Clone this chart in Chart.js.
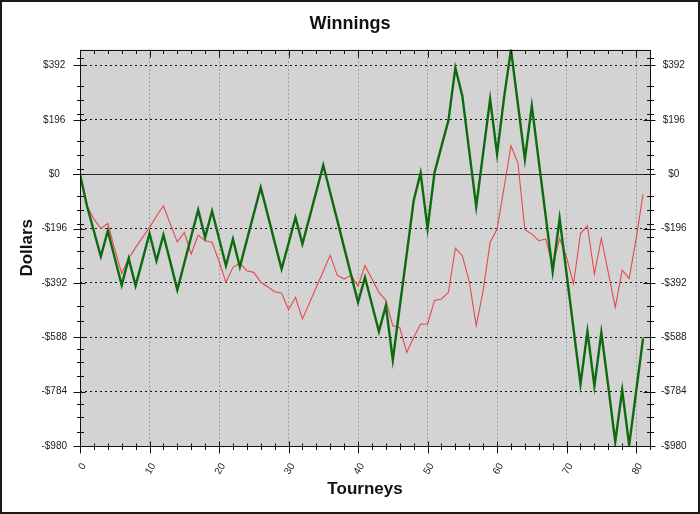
<!DOCTYPE html>
<html>
<head>
<meta charset="utf-8">
<title>Winnings</title>
<script src="https://cdn.jsdelivr.net/npm/chart.js@4.4.1/dist/chart.umd.min.js"></script>
<style>
  html, body { margin: 0; padding: 0; background: #fff; }
  canvas { display: block; }
</style>
</head>
<body>
<canvas id="chart" width="700" height="514"></canvas>
<script>
const tourneys = [0,1,2,3,4,5,6,7,8,9,10,11,12,13,14,15,16,17,18,19,
  20,21,22,23,24,25,26,27,28,29,30,31,32,33,34,35,36,37,38,39,
  40,41,42,43,44,45,46,47,48,49,50,51,52,53,54,55,56,57,58,59,
  60,61,62,63,64,65,66,67,68,69,70,71,72,73,74,75,76,77,78,79,80,81];

// thick green line
const winnings = [0,-114,-206,-297,-204,-302,-400,-304,-402,-308,
  -214,-312,-219,-317,-417,-321,-225,-129,-228,-133,
  -232,-330,-234,-334,-238,-143,-48,-146,-245,-342,
  -250,-156,-252,-157,-62,32,-67,-165,-265,-363,
  -462,-372,-470,-567,-474,-670,-478,-288,-96,4,
  -196,5,100,193,383,282,82,-117,77,270,
  72,275,449,252,54,246,47,-152,-351,-160,
  -359,-558,-757,-567,-763,-571,-765,-965,-778,-977,
  -785,-592];

// thin red line
const trend = [0,-114,-162,-196,-178,-270,-358,-304,-264,-228,
  -192,-152,-114,-180,-244,-210,-288,-220,-240,-245,
  -314,-390,-336,-321,-348,-354,-390,-406,-424,-429,
  -489,-444,-522,-465,-407,-350,-292,-364,-378,-364,
  -404,-330,-378,-426,-455,-547,-553,-643,-589,-540,
  -541,-455,-450,-426,-267,-294,-387,-546,-420,-246,
  -198,-50,102,40,-200,-216,-240,-234,-330,-232,
  -300,-396,-214,-186,-360,-231,-355,-480,-346,-376,
  -234,-72];

const xTicks = [0,10,20,30,40,50,60,70,80];
const xMinorTicks = [2,4,6,8,12,14,16,18,22,24,26,28,32,34,36,38,42,44,46,48,
  52,54,56,58,62,64,66,68,72,74,76,78,82];
const yTicks = [-980,-784,-588,-392,-196,0,196,392];
const yMinorTicks = [418,316,266,216,120,70,18,-78,-130,-180,-226,-278,-340,
  -476,-528,-630,-678,-729,-829,-877,-929];

const FONT = "'Liberation Sans', Arial, sans-serif";

const formatDollars = (v) => (v < 0 ? '-$' : '$') + Math.abs(v);
const crisp = (p) => Math.round(p) + 0.5;

const line = (ctx, x1, y1, x2, y2) => {
  ctx.beginPath();
  ctx.moveTo(x1, y1);
  ctx.lineTo(x2, y2);
  ctx.stroke();
};

// background, zero line, frame and the tick marks (major + minor)
const plotFrame = {
  id: 'plotFrame',
  beforeDraw(chart) {
    const { ctx, chartArea: a } = chart;
    ctx.save();
    ctx.fillStyle = '#fff';
    ctx.fillRect(0, 0, chart.width, chart.height);
    ctx.fillStyle = '#d3d3d3';
    ctx.fillRect(a.left, a.top, a.right - a.left, a.bottom - a.top);
    ctx.restore();
  },
  beforeDatasetsDraw(chart) {
    const { ctx, chartArea: a, scales } = chart;
    const p = crisp(scales.y.getPixelForValue(0));
    ctx.save();
    ctx.strokeStyle = '#2a2a2a';
    ctx.lineWidth = 1;
    line(ctx, a.left - 7, p, a.right + 5, p);
    ctx.restore();
  },
  afterDatasetsDraw(chart) {
    const { ctx, chartArea: a, scales } = chart;
    const L = crisp(a.left), R = crisp(a.right), T = crisp(a.top), B = crisp(a.bottom);
    ctx.save();
    ctx.strokeStyle = '#111';
    ctx.lineWidth = 1;
    ctx.strokeRect(L, T, R - L, B - T);

    yTicks.forEach(v => {
      const p = crisp(scales.y.getPixelForValue(v));
      line(ctx, L - 7, p, L + 5, p);
      line(ctx, R - 7, p, R + 5, p);
    });
    yMinorTicks.forEach(v => {
      const p = crisp(scales.y.getPixelForValue(v));
      line(ctx, L - 3.5, p, L + 3.5, p);
      line(ctx, R - 3.5, p, R + 3.5, p);
    });
    xTicks.forEach(v => {
      const p = crisp(scales.x.getPixelForValue(v));
      line(ctx, p, B - 5, p, B + 7);
      line(ctx, p, T, p, T + 7);
    });
    xMinorTicks.forEach(v => {
      const p = crisp(scales.x.getPixelForValue(v));
      line(ctx, p, B - 3, p, B + 3.5);
      line(ctx, p, T, p, T + 3.5);
    });

    // outer picture frame
    ctx.lineWidth = 2;
    ctx.strokeStyle = '#1a1a1a';
    ctx.strokeRect(1, 1, chart.width - 2, chart.height - 2);
    ctx.restore();
  }
};

const tickFont = { family: FONT, size: 10 };
const titleFont = { family: FONT, size: 17, weight: 'bold' };

new Chart(document.getElementById('chart'), {
  type: 'line',
  data: {
    datasets: [{
      label: 'Winnings',
      data: tourneys.map((t, i) => ({ x: t, y: winnings[i] })),
      borderColor: '#0e6a0e',
      borderWidth: 2.4,
      pointRadius: 0,
      tension: 0
    }, {
      label: 'Trend',
      data: tourneys.map((t, i) => ({ x: t, y: trend[i] })),
      borderColor: '#e5494c',
      borderWidth: 1.1,
      pointRadius: 0,
      tension: 0
    }]
  },
  options: {
    responsive: false,
    animation: false,
    devicePixelRatio: 1,
    layout: { padding: 0 },
    plugins: {
      legend: { display: false },
      tooltip: { enabled: false },
      title: {
        display: true,
        text: 'Winnings',
        color: '#111',
        font: { family: FONT, size: 18, weight: 'bold' },
        padding: { top: 13, bottom: 15 }
      }
    },
    scales: {
      x: {
        type: 'linear',
        min: 0,
        max: 82,
        afterBuildTicks: (s) => { s.ticks = xTicks.map(v => ({ value: v })); },
        afterFit: (s) => { s.height = 68; },
        grid: { color: '#666', lineWidth: 1, drawTicks: false },
        border: { display: false, dash: [1, 3] },
        ticks: { font: tickFont, color: '#222', minRotation: 60, maxRotation: 60, padding: 15, labelOffset: 4 },
        title: { display: true, text: 'Tourneys', color: '#111', font: titleFont, padding: { top: 0, bottom: 14 } }
      },
      y: {
        position: 'left',
        min: -980,
        max: 449,
        afterBuildTicks: (s) => { s.ticks = yTicks.map(v => ({ value: v })); },
        afterFit: (s) => { s.width = 80; },
        grid: { color: '#111', lineWidth: 1, drawTicks: false },
        border: { display: false, dash: [2, 3] },
        ticks: { font: tickFont, color: '#222', crossAlign: 'center', padding: 13, callback: (v) => formatDollars(v) },
        title: { display: true, text: 'Dollars', color: '#111', font: titleFont, padding: { top: 17, bottom: 0 } }
      },
      y2: {
        position: 'right',
        min: -980,
        max: 449,
        afterBuildTicks: (s) => { s.ticks = yTicks.map(v => ({ value: v })); },
        afterFit: (s) => { s.width = 50; },
        grid: { drawOnChartArea: false, drawTicks: false },
        border: { display: false },
        ticks: { font: tickFont, color: '#222', crossAlign: 'center', padding: 11, callback: (v) => formatDollars(v) }
      }
    }
  },
  plugins: [plotFrame]
});
</script>
</body>
</html>
